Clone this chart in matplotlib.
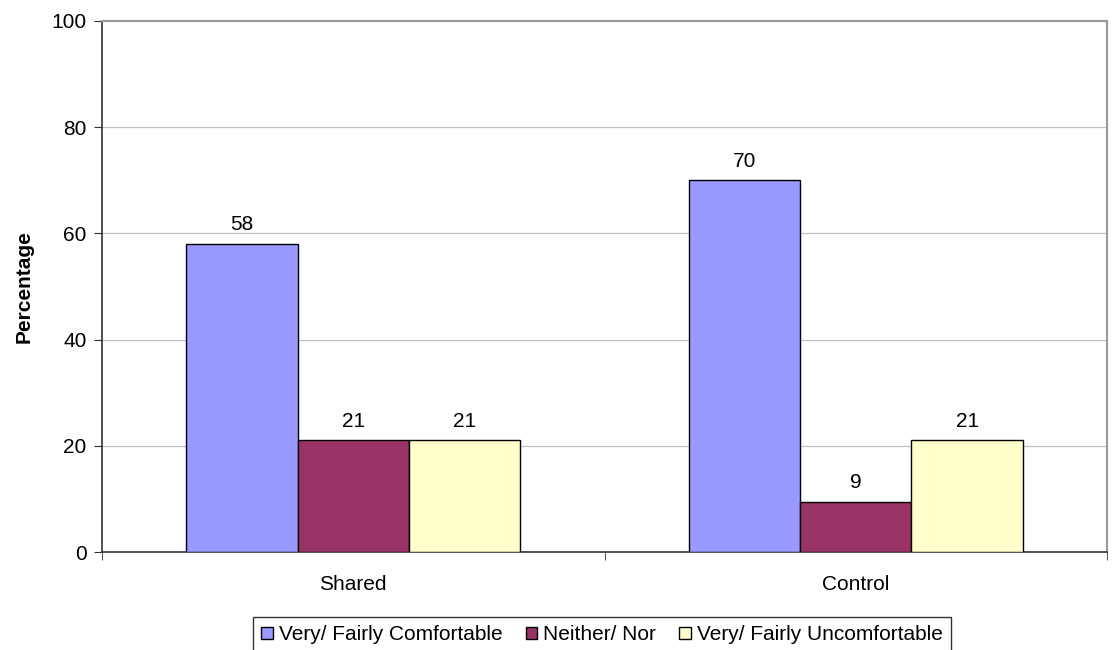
import matplotlib
matplotlib.use("Agg")
import matplotlib.pyplot as plt
import numpy as np

categories = ["Shared", "Control"]
series_names = ["Very/ Fairly Comfortable", "Neither/ Nor", "Very/ Fairly Uncomfortable"]
comfortable = [58, 70]
neither = [21, 9.4]
uncomfortable = [21, 21]
colors = ["#9999FF", "#993366", "#FFFFCC"]
yticks = [0, 20, 40, 60, 80, 100]

plt.rcParams['font.family'] = ['Liberation Sans', 'DejaVu Sans']
FS = 15

fig = plt.figure(figsize=(11.12, 6.5), dpi=100)
ax = fig.add_axes([102/1112, 1-552/650, (1107-102)/1112, (552-21)/650])

x = np.arange(len(categories))
w = 0.2217
series = [comfortable, neither, uncomfortable]
handles = []
for i, (vals, name, c) in enumerate(zip(series, series_names, colors)):
    bars = ax.bar(x + (i - 1) * w, vals, w, color=c, edgecolor="black", linewidth=1.0, label=name, zorder=3)
    handles.append(bars)
    for b, v in zip(bars, vals):
        ax.annotate(f"{v:.0f}", (b.get_x() + b.get_width() / 2, v), xytext=(0, 7),
                    textcoords="offset points", ha="center", va="bottom", fontsize=FS)

ax.set_xlim(-0.5, 1.5)
ax.set_ylim(0, 100)
ax.set_yticks(yticks)
ax.set_yticklabels([str(t) for t in yticks], fontsize=FS)
ax.yaxis.grid(True, color="#C0C0C0", linewidth=0.9, zorder=0)
ax.set_axisbelow(True)

ax.set_xticks(x)
ax.set_xticklabels(categories, fontsize=FS)
ax.tick_params(axis="x", length=0, pad=16.5)
ax.set_xticks([-0.5, 0.5, 1.5], minor=True)
ax.tick_params(axis="x", which="minor", length=6, color="#333333", direction="out")
ax.tick_params(axis="y", length=6, color="#333333", direction="out", pad=5)

for s in ["left", "bottom"]:
    ax.spines[s].set_color("#333333")
    ax.spines[s].set_linewidth(1.2)
for s in ["top", "right"]:
    ax.spines[s].set_color("#999999")
    ax.spines[s].set_linewidth(1.5)

ax.set_ylabel("Percentage", fontsize=FS, fontweight="bold", labelpad=13)

leg = fig.legend(handles=handles, labels=series_names, loc="center",
                 bbox_to_anchor=(602/1112, 1-635/650), ncol=3, frameon=True,
                 fancybox=False, edgecolor="black", fontsize=FS,
                 handlelength=0.55, handleheight=0.55, handletextpad=0.3,
                 columnspacing=1.1, borderpad=0.4)
leg.get_frame().set_linewidth(1.0)

fig.savefig("out.png", dpi=100)
